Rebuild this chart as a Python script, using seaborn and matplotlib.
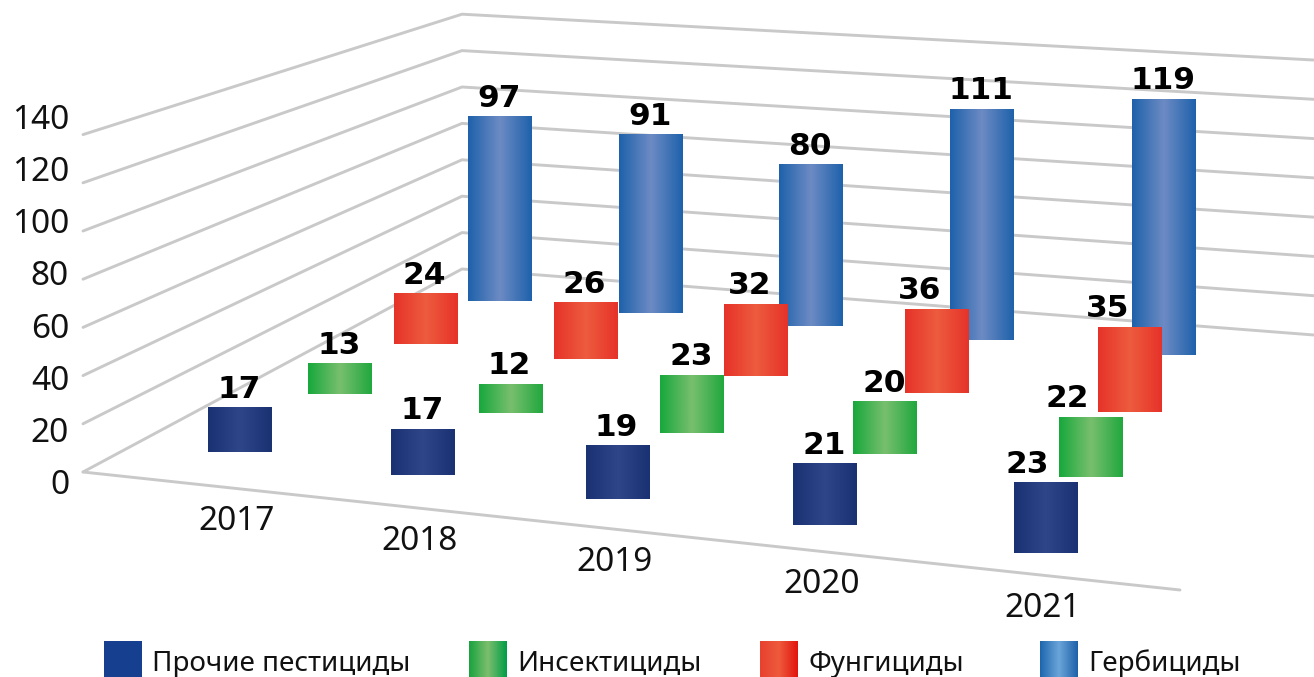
import pandas as pd
import numpy as np
import seaborn as sns
import matplotlib.pyplot as plt

# Data
years = ["2017", "2018", "2019", "2020", "2021"]
other = [17, 17, 19, 21, 23]
insecticides = [13, 12, 23, 20, 22]
fungicides = [24, 26, 32, 36, 35]
herbicides = [97, 91, 80, 111, 119]
series_names = ["Прочие пестициды", "Инсектициды", "Фунгициды", "Гербициды"]
y_ticks = [0, 20, 40, 60, 80, 100, 120, 140]

series = [other, insecticides, fungicides, herbicides]

# Gradient stops per series
bar_stops = [["#1A3272", "#2F4689", "#1A3272"],
             ["#18A83C", "#78BF6E", "#22A83F"],
             ["#E6332A", "#ED5C3E", "#E6332A"],
             ["#1F62AB", "#6D8BC4", "#1F62AB"]]
legend_stops = [["#16408F", "#16408F", "#16408F"],
                ["#19A33F", "#7DBE6E", "#009E47"],
                ["#E8412F", "#EE5A3C", "#E2150F"],
                ["#1E67AE", "#6BA5DA", "#1E62AA"]]

W, H = 1314, 677
BAR_W = 64
GRID_COLOR = "#C9C9C9"

# Floor corners on screen: first/last year, front/back row
CORNER_FF = (240, 452)
CORNER_LF = (1046, 553)
CORNER_FB = (500, 301)
CORNER_LB = (1164, 355)


def along_years(u):
    # perspective spacing along the year axis, 0..1
    return u / (4.54 - 0.135 * u)


def along_depth(v):
    # perspective spacing along the series axis, 0..1
    return v / (2.4 + 0.2 * v)


def floor_xy(u, v):
    f, g = along_years(u), along_depth(v)
    out = []
    for k in (0, 1):
        left = CORNER_FF[k] + (CORNER_FB[k] - CORNER_FF[k]) * g
        right = CORNER_LF[k] + (CORNER_LB[k] - CORNER_LF[k]) * g
        out.append(left + (right - left) * f)
    return out[0], out[1]


def units_per_value(y):
    # height scale shrinks linearly towards the horizon
    return 1.90 + 0.0046 * (y - 301)


def wall_line(v):
    # left end, back corner, right end of one gridline
    return [(83, 472 - 2.41 * v), (462, 269 - 1.82 * v), (1314, 335 - 1.964 * v)]


def gradient(ax, stops, x0, x1, y0, y1, z):
    ramp = sns.blend_palette(stops, 64)
    img = np.array(ramp)[np.newaxis, :, :]
    ax.imshow(img, extent=(x0, x1, y1, y0), aspect="auto", zorder=z, interpolation="bilinear")


sns.set_theme(style="white")
plt.rcParams["font.family"] = ["Noto Sans", "DejaVu Sans"]

fig = plt.figure(figsize=(W / 100, H / 100), dpi=100)
ax = fig.add_axes([0, 0, 1, 1])

# Grid lines on the two walls, plus the front floor edge
rows = []
for v in y_ticks:
    for x, y in wall_line(v):
        rows.append({"x": x, "y": y, "level": v})
rows.append({"x": 83, "y": 472, "level": -1})
rows.append({"x": 1180, "y": 590, "level": -1})
grid_df = pd.DataFrame(rows)
sns.lineplot(data=grid_df, x="x", y="y", units="level", estimator=None, sort=False,
             color=GRID_COLOR, linewidth=2.1, ax=ax, zorder=1)

# Labels pushed aside in the original so that they clear the neighbouring bar
label_nudge = {(2, 2): -5, (3, 2): -16, (4, 0): -18, (4, 1): -23, (4, 2): -22}

# Bars, back row first
for s in range(3, -1, -1):
    for i, val in enumerate(series[s]):
        cx, base = floor_xy(i, s)
        top = base - units_per_value(base) * val
        z = 10 + (3 - s) * 2
        gradient(ax, bar_stops[s], cx - BAR_W / 2, cx + BAR_W / 2, top, base, z)
        ax.text(cx - 1 + label_nudge.get((i, s), 0), top - 10, str(val), ha="center", va="baseline",
                fontsize=22.5, fontweight="bold", family="DejaVu Sans", color="black", zorder=30)

# Value axis labels
for v in y_ticks:
    ax.text(69, 485.5 - 2.607 * v, str(v), ha="right", va="center", fontsize=24, color="#111111")

# Year labels follow the front floor edge
for i, year in enumerate(years):
    cx, _ = floor_xy(i, 0)
    edge_y = 472 + (590 - 472) / (1180 - 83) * (cx - 83)
    ax.text(cx - 3, edge_y + 33, year, ha="center", va="center", fontsize=24, color="#111111")

# Legend
swatch_x = [104, 469, 760, 1040]
for name, stops, x in zip(series_names, legend_stops, swatch_x):
    gradient(ax, stops, x, x + 38, 641, 677, 5)
    ax.text(x + 48, 664, name, ha="left", va="center", fontsize=20, color="#111111")

ax.set_xlim(0, W)
ax.set_ylim(H, 0)
ax.axis("off")

plt.savefig("out.png", dpi=100)
